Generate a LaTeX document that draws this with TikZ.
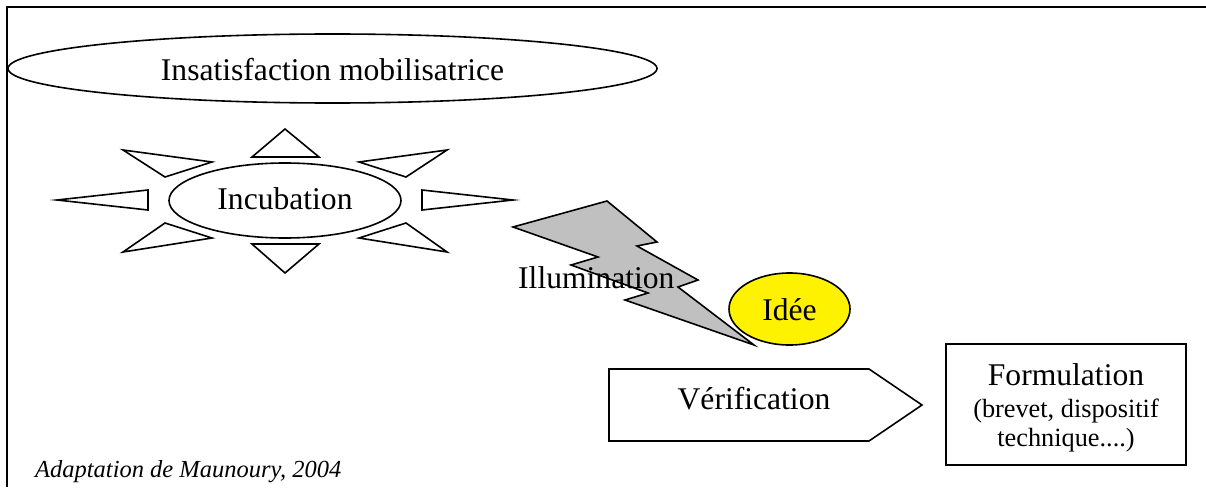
\documentclass[tikz,border=0pt]{standalone}
\usepackage{fontspec}
\setmainfont{Liberation Serif}
\usetikzlibrary{shapes.geometric}
\begin{document}
\begin{tikzpicture}[x=1pt,y=-1pt,
  shp/.style={draw=black,line width=1.6pt,line join=miter},
  ray/.style={draw=black,line width=1.6pt,fill=white,line join=miter},
  bigtxt/.style={font=\fontsize{31.6}{36}\selectfont,inner sep=0pt},
  smalltxt/.style={font=\fontsize{26.3}{30}\selectfont,inner sep=0pt},
  ell/.style={shp,ellipse,inner sep=0pt,fill=white}]
\useasboundingbox (0,0) rectangle (1206,487);
\fill[white] (0,0) rectangle (1206,487);
% frame
\draw[line width=2pt] (7,487) -- (7,7) -- (1206,7);
% top ellipse
\node[ell,minimum width=649pt,minimum height=69pt] (insat) at (332.5,68.5) {};
\node[bigtxt,anchor=base] (insattxt) at (332.5,80) {Insatisfaction mobilisatrice};
% sun rays
\draw[ray] (285,129) -- (319,157) -- (252,157) -- cycle;
\draw[ray] (285,273) -- (319,244) -- (252,244) -- cycle;
\draw[ray] (57,200) -- (148,190) -- (148,210) -- cycle;
\draw[ray] (513,200) -- (422,190) -- (422,210) -- cycle;
\draw[ray] (123,150) -- (212,162) -- (165,177) -- cycle;
\draw[ray] (447,150) -- (359,162) -- (406,177) -- cycle;
\draw[ray] (123,252) -- (212,238) -- (165,223) -- cycle;
\draw[ray] (447,252) -- (359,238) -- (406,223) -- cycle;
% incubation
\node[ell,minimum width=232pt,minimum height=75pt] (incub) at (285,200.5) {};
\node[bigtxt,anchor=base] (incubtxt) at (285,209) {Incubation};
% lightning bolt
\draw[shp,fill={rgb,255:red,192;green,192;blue,192}]
  (513,227) -- (607,201) -- (657,242) -- (637,246) -- (698,280) -- (678,287)
  -- (754,345) -- (625,300) -- (648,293) -- (571,265) -- (598,257) -- cycle;
\node[bigtxt,anchor=base west] (illum) at (518,288) {Illumination};
% idee
\node[ell,fill=yellow,minimum width=121pt,minimum height=72pt] (idee) at (789.5,309) {};
\node[bigtxt,anchor=base] (ideetxt) at (789.5,320) {Idée};
% verification
\draw[shp] (609,369) -- (869,369) -- (922,405) -- (869,441) -- (609,441) -- cycle;
\node[bigtxt,anchor=base] (verif) at (754,409) {Vérification};
% formulation
\node[shp,rectangle,minimum width=240pt,minimum height=121pt,inner sep=0pt] (form) at (1066,404.5) {};
\node[bigtxt,anchor=base] (formt1) at (1066,385) {Formulation};
\node[smalltxt,anchor=base] (formt2) at (1066,417) {(brevet, dispositif};
\node[smalltxt,anchor=base] (formt3) at (1066,446) {technique....)};
% source
\node[font=\fontsize{24.5}{28}\selectfont\itshape,inner sep=0pt,anchor=base west] (src) at (35,477) {Adaptation de Maunoury, 2004};
\end{tikzpicture}
\end{document}
